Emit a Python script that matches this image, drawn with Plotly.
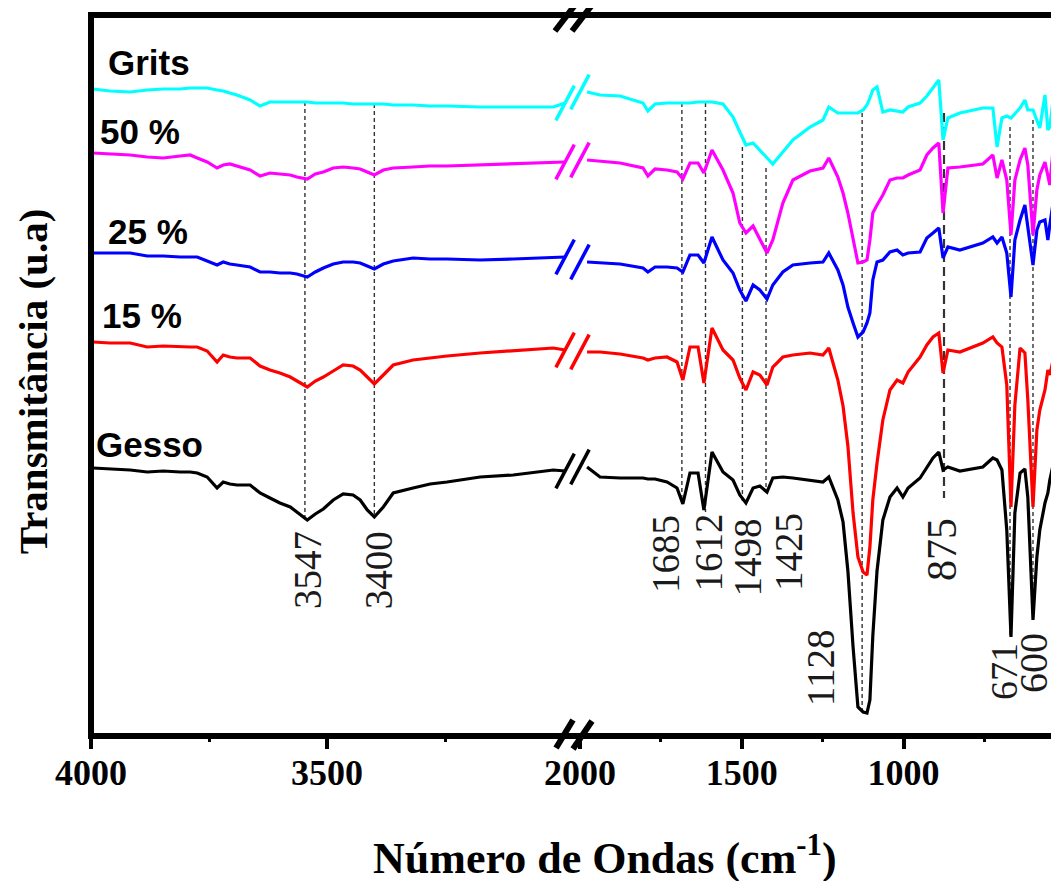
import plotly.graph_objects as go

# ---------------- data ----------------
# wavenumber grids (cm-1) of the two x-axis segments
wn_left = [3996, 3960, 3917, 3881, 3847, 3811, 3790, 3775, 3754, 3733,
           3720, 3706, 3691, 3663, 3642, 3621, 3600, 3578, 3564, 3542,
           3525, 3508, 3487, 3466, 3445, 3430, 3415, 3400, 3381, 3360,
           3318, 3282, 3246, 3176, 3106, 3021, 2996]
wn_right = [1978, 1938, 1876, 1805, 1790, 1768, 1731, 1700, 1682, 1660,
            1635, 1617, 1592, 1558, 1527, 1506, 1487, 1465, 1444, 1422,
            1404, 1373, 1342, 1289, 1249, 1231, 1203, 1187, 1172, 1156,
            1141, 1125, 1113, 1104, 1095, 1082, 1064, 1042, 1020, 1002,
            986, 949, 928, 909, 891, 878, 863, 826, 755, 724,
            711, 696, 681, 668, 656, 640, 625, 616, 600, 588,
            579, 563, 554, 548, 538, 532]

# transmittance (arbitrary units, curves already offset as in the figure)
gesso_left = [268, 267, 266, 264, 265, 264, 264, 263, 259, 248,
              254, 252, 251, 251, 243, 238, 233, 229, 224, 216,
              222, 227, 236, 242, 241, 236, 226, 219, 229, 243,
              248, 252, 254, 259, 261, 266, 265]
gesso_right = [269, 259, 258, 258, 257, 257, 254, 248, 232, 263,
               263, 226, 284, 264, 256, 241, 233, 248, 250, 244,
               258, 259, 258, 256, 254, 259, 236, 214, 165, 89,
               29, 24, 23, 36, 100, 165, 216, 239, 248, 239,
               248, 258, 268, 278, 284, 266, 269, 265, 269, 278,
               276, 266, 206, 99, 223, 263, 267, 239, 116, 179,
               206, 233, 243, 256, 271, 274]

p15_left = [394, 393, 393, 389, 390, 389, 389, 389, 385, 374,
            381, 379, 378, 378, 370, 366, 363, 359, 355, 349,
            355, 359, 365, 371, 370, 366, 359, 352, 361, 371,
            376, 378, 380, 383, 385, 388, 386]
p15_right = [384, 384, 382, 378, 376, 378, 379, 374, 356, 389,
             389, 353, 408, 386, 376, 358, 346, 364, 361, 351,
             369, 379, 381, 383, 381, 388, 356, 330, 290, 223,
             179, 164, 161, 189, 236, 273, 316, 346, 356, 353,
             364, 379, 391, 399, 403, 363, 386, 384, 393, 399,
             393, 389, 351, 229, 331, 388, 383, 336, 229, 306,
             326, 346, 366, 361, 376, 381]

p25_left = [483, 483, 483, 480, 480, 479, 479, 479, 475, 471,
            474, 472, 471, 469, 464, 464, 463, 463, 462, 459,
            464, 468, 472, 474, 474, 473, 470, 467, 472, 475,
            478, 477, 477, 476, 477, 479, 479]
p25_right = [474, 473, 472, 468, 464, 469, 469, 468, 464, 481,
             481, 473, 499, 476, 463, 446, 435, 451, 446, 437,
             451, 464, 471, 473, 474, 483, 466, 451, 429, 413,
             399, 404, 413, 423, 456, 474, 476, 484, 486, 481,
             483, 484, 498, 503, 508, 478, 489, 486, 493, 499,
             493, 499, 483, 439, 496, 516, 531, 509, 471, 506,
             514, 516, 496, 511, 533, 536]

p50_left = [583, 582, 581, 579, 578, 580, 581, 578, 574, 568,
            571, 572, 570, 566, 560, 563, 562, 561, 559, 557,
            562, 564, 568, 569, 568, 567, 564, 561, 566, 568,
            569, 570, 570, 571, 572, 574, 574]
p50_right = [576, 575, 573, 568, 560, 567, 566, 564, 557, 573,
             573, 563, 586, 566, 543, 513, 503, 510, 497, 483,
             496, 533, 556, 565, 568, 578, 559, 543, 523, 496,
             473, 474, 476, 496, 523, 531, 541, 556, 558, 558,
             561, 566, 581, 588, 593, 523, 568, 569, 572, 581,
             558, 576, 556, 501, 556, 576, 588, 571, 501, 546,
             561, 574, 561, 551, 586, 599]

grits_left = [647, 645, 644, 646, 647, 647, 648, 648, 648, 646,
              645, 643, 641, 636, 630, 634, 634, 634, 634, 634,
              633, 633, 633, 633, 632, 632, 632, 632, 632, 631,
              631, 630, 630, 629, 629, 629, 633]
grits_right = [644, 641, 640, 633, 625, 632, 633, 633, 633, 633,
               634, 634, 634, 632, 619, 604, 591, 593, 586, 578,
               572, 584, 596, 609, 616, 629, 623, 623, 623, 623,
               623, 626, 631, 638, 646, 649, 624, 626, 625, 624,
               629, 633, 640, 648, 656, 596, 618, 623, 628, 628,
               589, 618, 620, 618, 622, 628, 636, 626, 626, 616,
               608, 641, 606, 609, 636, 663]

series_names = ["Gesso", "15 %", "25 %", "50 %", "Grits"]
series_colors = ["#000000", "#ff0000", "#0000ff", "#ff00ff", "#00ffff"]
series_left = [gesso_left, p15_left, p25_left, p50_left, grits_left]
series_right = [gesso_right, p15_right, p25_right, p50_right, grits_right]
# label anchor (left edge wavenumber, vertical position)
name_x = [3994, 3980, 3969, 3986, 3969]
name_y = [292, 421, 505, 605, 674]

# marked bands
peak_wn = [3547, 3400, 1685, 1612, 1498, 1425, 1128, 875, 671, 600]
peak_top = [634, 632, 633, 633, 589, 568, 623, 623, 609, 616]
peak_bottom = [216, 219, 233, 224, 233, 246, 26, 238, 99, 116]
peak_label_y = [166, 166, 182, 183, 179, 184, 68, 186, 64, 73]
peak_label_shift = [2, 4, -17, 2, 5, 22, -42, -2, -6, 0]
peak_label_size = [39, 39, 39, 39, 39, 39, 39, 42, 38, 40]

left_ticks = [4000, 3500]
left_minor = [3750, 3250]
right_ticks = [2000, 1500, 1000]
right_minor = [1750, 1250, 750]
left_range = [4000, 2992]
right_range = [2040, 532]
break_right = 2000
y_range = [0, 721]

SERIF = 'Liberation Serif, Times New Roman, serif'
SANS = 'Liberation Sans, Arial, sans-serif'

# ---------------- figure ----------------
D = 476 / 964  # split of the broken axis
fig = go.Figure()

for wn, top, bot in zip(peak_wn, peak_top, peak_bottom):
    ax = 'x' if wn > 2500 else 'x2'
    thick = wn == 875
    fig.add_trace(go.Scatter(
        x=[wn, wn], y=[top, bot], mode='lines', xaxis=ax, yaxis='y',
        line=dict(color='#333333', width=2.2 if thick else 1.4,
                  dash='9px,5px' if thick else '4px,3px'),
        hoverinfo='skip', showlegend=False))

for name, col, yl, yr in zip(series_names, series_colors, series_left, series_right):
    fig.add_trace(go.Scatter(x=wn_left, y=yl, mode='lines', name=name,
                             line=dict(color=col, width=3.2), xaxis='x', yaxis='y',
                             showlegend=False))
    fig.add_trace(go.Scatter(x=wn_right, y=yr, mode='lines', name=name,
                             line=dict(color=col, width=3.2), xaxis='x2', yaxis='y',
                             showlegend=False))
    mk = dict(symbol='line-ns', angle=28, size=28, line=dict(color=col, width=3.5))
    fig.add_trace(go.Scatter(x=[wn_left[-1]], y=[yl[-1]], mode='markers', marker=mk,
                             xaxis='x', yaxis='y', cliponaxis=False,
                             hoverinfo='skip', showlegend=False))
    fig.add_trace(go.Scatter(x=[break_right], y=[yr[0]], mode='markers', marker=mk,
                             xaxis='x2', yaxis='y', cliponaxis=False,
                             hoverinfo='skip', showlegend=False))

tickfont = dict(family=SERIF, size=36, color='black', weight='bold')
common_x = dict(ticks='outside', ticklen=12, tickwidth=4, tickcolor='black',
                showgrid=False, zeroline=False, showline=False, tickfont=tickfont,
                anchor='y', ticklabelstandoff=-7)
fig.update_layout(
    width=1051, height=873,
    margin=dict(l=83, r=4, t=7, b=145),
    paper_bgcolor='white', plot_bgcolor='white', showlegend=False,
    xaxis=dict(domain=[0, D], range=left_range, tickmode='array', tickvals=left_ticks,
               minor=dict(tickmode='array', tickvals=left_minor, ticks='outside',
                          ticklen=5, tickwidth=3, tickcolor='black'), **common_x),
    xaxis2=dict(domain=[D, 1], range=right_range, tickmode='array', tickvals=right_ticks,
                minor=dict(tickmode='array', tickvals=right_minor, ticks='outside',
                           ticklen=5, tickwidth=3, tickcolor='black'), **common_x),
    yaxis=dict(range=y_range, showticklabels=False, ticks='', showgrid=False,
               zeroline=False, showline=False),
)

shapes = [dict(type='rect', xref='paper', yref='paper', x0=0, x1=1, y0=0, y1=1,
               line=dict(color='black', width=6), layer='above')]
# break marks on the frame
for (xa, ya, xb, yb) in [(0.4813, 0.9778, 0.5021, 1.0139), (0.4990, 0.9778, 0.5197, 1.0139),
                         (0.4824, -0.0166, 0.5000, 0.0222), (0.5000, -0.0180, 0.5197, 0.0208)]:
    shapes.append(dict(type='line', xref='paper', yref='paper', x0=xa, y0=ya, x1=xb, y1=yb,
                       line=dict(color='black', width=6), layer='above'))
fig.update_layout(shapes=shapes)

annotations = []
for name, x, y in zip(series_names, name_x, name_y):
    annotations.append(dict(x=x, y=y, xref='x', yref='y', text=name, showarrow=False,
                            xanchor='left', yanchor='middle',
                            font=dict(family=SANS, size=35, color='black', weight='bold')))
for wn, ly, sh, fs in zip(peak_wn, peak_label_y, peak_label_shift, peak_label_size):
    annotations.append(dict(x=wn, y=ly, xref='x' if wn > 2500 else 'x2', yref='y',
                            text=str(wn), showarrow=False, textangle=-90, xshift=sh,
                            xanchor='center', yanchor='middle',
                            font=dict(family=SERIF, size=fs, color='#1a1a1a')))
annotations.append(dict(x=-0.060, y=0.491, xref='paper', yref='paper',
                        text='Transmitância (u.a)', showarrow=False, textangle=-90,
                        xanchor='center', yanchor='middle',
                        font=dict(family=SERIF, size=41, color='black', weight='bold')))
annotations.append(dict(x=0.533, y=-0.166, xref='paper', yref='paper',
                        text='Número de Ondas (cm<sup>-1</sup>)', showarrow=False,
                        xanchor='center', yanchor='middle',
                        font=dict(family=SERIF, size=44, color='black', weight='bold')))
fig.update_layout(annotations=annotations)

fig.write_html("out.html")
